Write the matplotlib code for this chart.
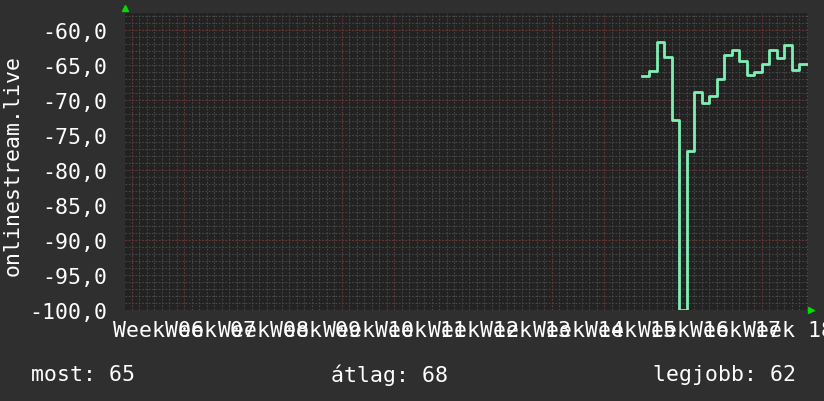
import numpy as np
import matplotlib
matplotlib.use("Agg")
import matplotlib.pyplot as plt

# daily values, one per day, starting at day index 68 of the window
start_day = 68
values = [-66.5, -65.9, -61.7, -63.9, -72.8, -100.0, -77.3, -68.8, -70.4, -69.4, -67.0,
          -63.6, -62.9, -64.4, -66.4, -66.0, -64.8, -62.9, -64.0, -62.1, -65.7, -64.9]
week_labels = ["Week %02d" % w for w in range(6, 19)]
y_ticks = [-60, -65, -70, -75, -80, -85, -90, -95, -100]
legend = ["most: 65", "átlag: 68", "legjobb: 62"]

bg = "#2f2f2f"
plot_bg = "#222222"
line_col = "#7ff0b4"
font = "DejaVu Sans Mono"
fs = 15.5

offset = 0.933  # first week boundary, in days from the left edge
x_max = 91.07

fig = plt.figure(figsize=(8.24, 4.02), dpi=100, facecolor=bg)
ax = fig.add_axes([125 / 824, 1 - 311 / 402, 683 / 824, 297 / 402])
ax.set_facecolor(plot_bg)
ax.set_xlim(0, x_max)
ax.set_ylim(-100, -57.57)

# grid: minor every day / every unit, major every week / every 5 units
dots = (0, (1.5, 1.5))
for d in np.arange(offset, x_max, 1.0):
    ax.axvline(d, color="#484848", lw=0.8, ls=dots, zorder=1)
for v in np.arange(-100, -57, 1.0):
    ax.axhline(v, color="#484848", lw=0.8, ls=dots, zorder=1)
for d in np.arange(offset, x_max, 7.0):
    ax.axvline(d, color="#663333", lw=0.8, ls=dots, zorder=2)
for v in y_ticks:
    ax.axhline(v, color="#663333", lw=0.8, ls=dots, zorder=2)

x = offset + start_day + np.arange(len(values) + 1)
y = values + [values[-1]]
ax.step(x, y, where="post", color=line_col, lw=2, zorder=3)

for s in ax.spines.values():
    s.set_visible(False)

ax.set_yticks(y_ticks)
ax.set_yticklabels([("%.1f" % v).replace(".", ",") for v in y_ticks],
                   fontfamily=font, fontsize=fs, color="white")
ax.set_xticks(offset + 3.5 + 7 * np.arange(len(week_labels)))
ax.set_xticklabels(week_labels, fontfamily=font, fontsize=fs, color="white")
ax.tick_params(axis="both", length=0)
ax.tick_params(axis="y", pad=13)
ax.tick_params(axis="x", pad=7)

# green arrows at axis ends
ax.plot([0], [1 + 5 / 297], marker="^", color="#00dd00", ms=5,
        transform=ax.transAxes, clip_on=False)
ax.plot([1 + 3 / 683], [0], marker=">", color="#00dd00", ms=5,
        transform=ax.transAxes, clip_on=False)

fig.text(13 / 824, 1 - 165 / 402, "onlinestream.live", rotation=90,
         ha="center", va="center", fontfamily=font, fontsize=fs, color="white")

fig.text(31 / 824, 1 - 375 / 402, legend[0], ha="left", va="center",
         fontfamily=font, fontsize=fs, color="white")
fig.text(331 / 824, 1 - 375 / 402, legend[1], ha="left", va="center",
         fontfamily=font, fontsize=fs, color="white")
fig.text(796 / 824, 1 - 375 / 402, legend[2], ha="right", va="center",
         fontfamily=font, fontsize=fs, color="white")

fig.savefig("out.png", dpi=100, facecolor=bg)
